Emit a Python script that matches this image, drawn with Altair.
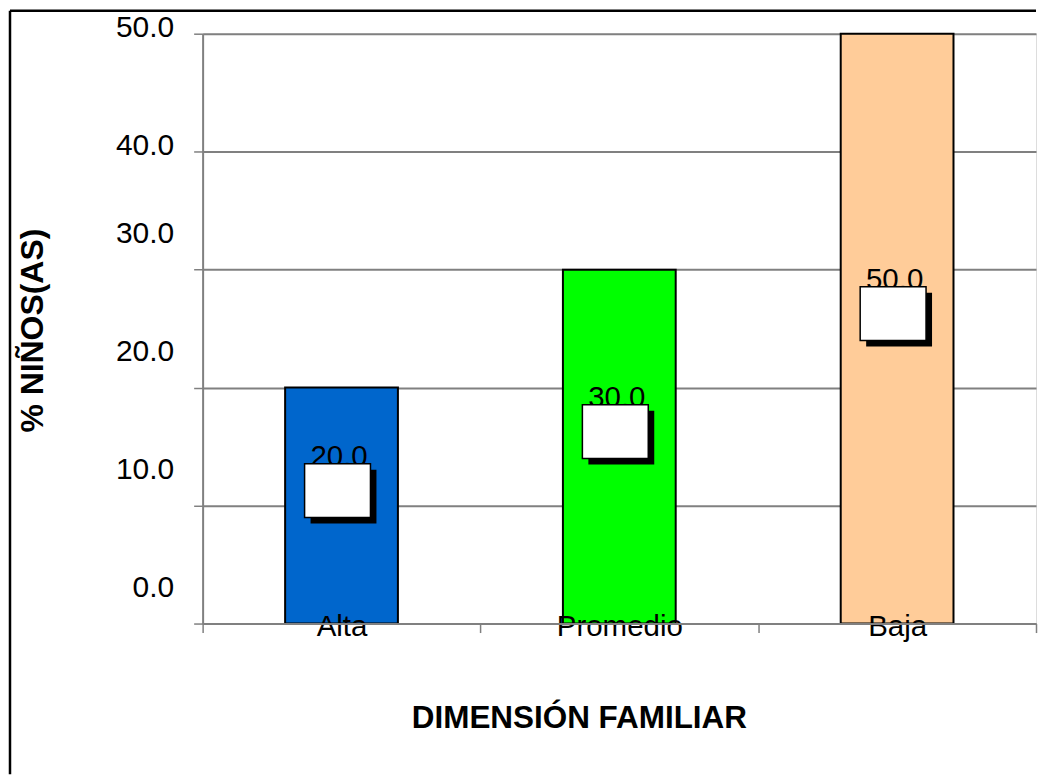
import altair as alt
import pandas as pd

categories = ["Alta", "Promedio", "Baja"]
values = [20.0, 30.0, 50.0]
colors = ["#0066CC", "#00FF00", "#FFCC99"]
y_ticks = [0, 10, 20, 30, 40, 50]

df = pd.DataFrame({"cat": categories, "val": values})

FONT = "Liberation Sans"
GRID = "#808080"

base = alt.Chart(df).transform_calculate(mid="datum.val / 2")

x_axis = alt.Axis(
    title="DIMENSIÓN FAMILIAR",
    titleFont=FONT, titleFontSize=31.5, titleFontWeight="bold", titleColor="black",
    titleX=377, titleY=104, titleAlign="center", titleBaseline="alphabetic",
    labelFont=FONT, labelFontSize=29.5, labelColor="black", labelAngle=0,
    labelBaseline="top", labelPadding=-20,
    tickBand="extent", tickSize=9, tickColor=GRID, tickWidth=1.5,
    domainColor=GRID, domainWidth=2, grid=False, zindex=1,
)

y_axis = alt.Axis(
    title="% NIÑOS(AS)",
    titleFont=FONT, titleFontSize=32, titleFontWeight="bold", titleColor="black",
    titleAngle=270, titleX=-160, titleY=297, titleAlign="center",
    titleBaseline="alphabetic",
    values=y_ticks, format=".1f",
    labelFont=FONT, labelFontSize=30, labelColor="black",
    labelPadding=20, labelFlush=False, labelOverlap=False,
    labelOffset={"condition": {"test": "datum.value >= 40", "value": -6}, "value": -36},
    grid=True, gridColor=GRID, gridWidth=2,
    tickSize=9, tickColor=GRID, tickWidth=1.5,
    domainColor=GRID, domainWidth=2, zindex=0,
)

x_scale = alt.Scale(paddingInner=0, paddingOuter=0)
y_scale = alt.Scale(domain=[0, 50], nice=False)

x_enc = alt.X("cat:N", sort=categories, scale=x_scale, axis=x_axis)

bars = base.mark_bar(width=113, stroke="black", strokeWidth=2).encode(
    x=x_enc,
    y=alt.Y("val:Q", scale=y_scale, axis=y_axis),
    color=alt.Color("cat:N", scale=alt.Scale(domain=categories, range=colors), legend=None),
)

y_mid = alt.Y("mid:Q", scale=y_scale, axis=y_axis)

text = base.mark_text(
    font=FONT, fontSize=29.5, color="black", baseline="alphabetic", align="center",
    dx=-2.5, dy=-40,
).encode(x=x_enc, y=y_mid, text=alt.Text("val:Q", format=".1f"))

box_path = "M-1,-0.818L1,-0.818L1,0.818L-1,0.818Z"

shadow = base.mark_point(
    shape=box_path, size=66 * 66, filled=True, fill="black", stroke="black",
    strokeWidth=0, opacity=1, xOffset=2, yOffset=-9,
).encode(x=x_enc, y=y_mid)

box = base.mark_point(
    shape=box_path, size=66 * 66, filled=True, fill="white", stroke="black",
    strokeWidth=1.5, opacity=1, fillOpacity=1, xOffset=-4, yOffset=-15,
).encode(x=x_enc, y=y_mid)

frame_data = alt.Data(values=[{"k": 1}])
frame_left = alt.Chart(frame_data).mark_rule(color="black", strokeWidth=2.5).encode(
    x=alt.value(-193), y=alt.value(-23), y2=alt.value(742)
)
frame_top = alt.Chart(frame_data).mark_rule(color="black", strokeWidth=2.5).encode(
    x=alt.value(-193), x2=alt.value(835), y=alt.value(-23)
)

chart = (
    alt.layer(bars, text, shadow, box, frame_left, frame_top)
    .properties(width=835, height=591, padding=0)
    .configure_view(stroke="#7070A0", strokeWidth=2)
    .configure(font=FONT, background="white")
)

chart.save("out.html", embed_options={"renderer": "svg", "actions": False})
